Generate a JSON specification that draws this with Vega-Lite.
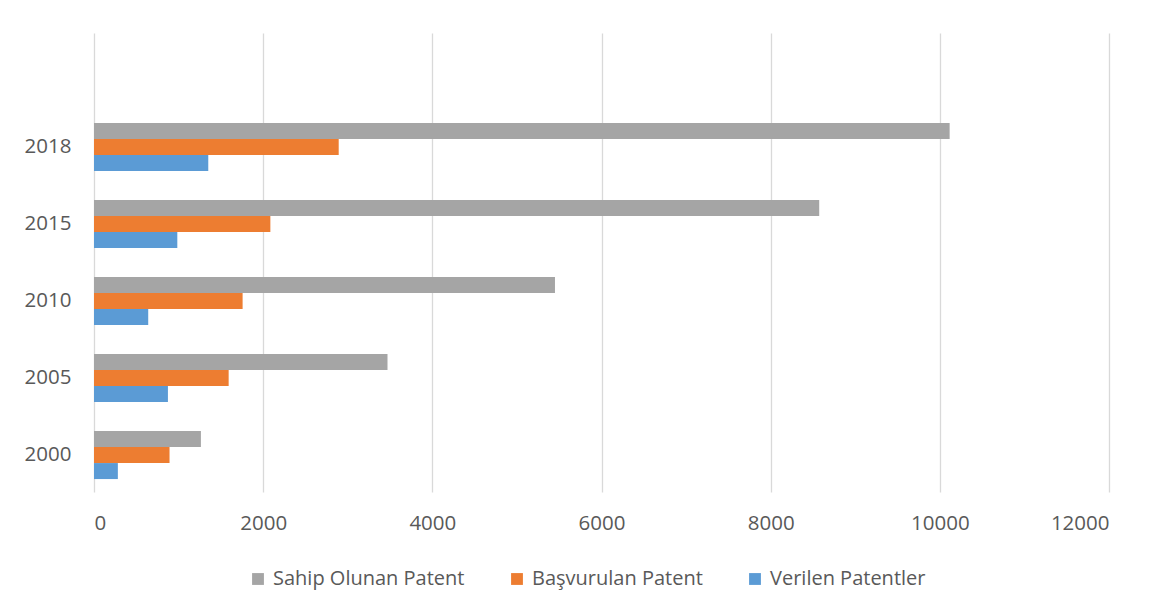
{
  "$schema": "https://vega.github.io/schema/vega-lite/v6.json",
  "width": 1015,
  "height": 459,
  "autosize": "none",
  "padding": {"left": 94, "top": 33, "right": 60, "bottom": 122},
  "background": "white",
  "config": {
    "view": {"stroke": null},
    "font": "Open Sans",
    "axis": {"labelFont": "Open Sans", "labelColor": "#595959", "labelFontSize": 20.5},
    "legend": {"labelFont": "Open Sans", "labelColor": "#595959", "labelFontSize": 20, "labelLimit": 400}
  },
  "data": {
    "values": [
      {"year": "2018", "series": "Sahip Olunan Patent", "value": 10116},
      {"year": "2018", "series": "Başvurulan Patent", "value": 2893},
      {"year": "2018", "series": "Verilen Patentler", "value": 1351},
      {"year": "2015", "series": "Sahip Olunan Patent", "value": 8574},
      {"year": "2015", "series": "Başvurulan Patent", "value": 2085},
      {"year": "2015", "series": "Verilen Patentler", "value": 985},
      {"year": "2010", "series": "Sahip Olunan Patent", "value": 5450},
      {"year": "2010", "series": "Başvurulan Patent", "value": 1757},
      {"year": "2010", "series": "Verilen Patentler", "value": 641},
      {"year": "2005", "series": "Sahip Olunan Patent", "value": 3470},
      {"year": "2005", "series": "Başvurulan Patent", "value": 1592},
      {"year": "2005", "series": "Verilen Patentler", "value": 874},
      {"year": "2000", "series": "Sahip Olunan Patent", "value": 1264},
      {"year": "2000", "series": "Başvurulan Patent", "value": 893},
      {"year": "2000", "series": "Verilen Patentler", "value": 282}
    ]
  },
  "mark": {"type": "bar"},
  "encoding": {
    "y": {
      "field": "year",
      "type": "nominal",
      "scale": {"domain": [" ", "2018", "2015", "2010", "2005", "2000"], "paddingInner": 0.377, "paddingOuter": 0.168},
      "axis": {"title": null, "domain": false, "ticks": false, "labelPadding": 23, "grid": false}
    },
    "yOffset": {
      "field": "series",
      "type": "nominal",
      "scale": {"domain": ["Sahip Olunan Patent", "Başvurulan Patent", "Verilen Patentler"]}
    },
    "x": {
      "field": "value",
      "type": "quantitative",
      "scale": {"domain": [0, 12000], "nice": false},
      "axis": {
        "title": null,
        "values": [0, 2000, 4000, 6000, 8000, 10000, 12000],
        "format": "d",
        "domain": false,
        "ticks": false,
        "grid": true,
        "gridColor": "#d9d9d9",
        "gridWidth": 1.3,
        "labelPadding": 21
      }
    },
    "color": {
      "field": "series",
      "type": "nominal",
      "scale": {
        "domain": ["Sahip Olunan Patent", "Başvurulan Patent", "Verilen Patentler"],
        "range": ["#A5A5A5", "#ED7D31", "#5B9BD5"]
      },
      "legend": {
        "title": null,
        "orient": "none",
        "legendX": 154,
        "legendY": 536,
        "direction": "horizontal",
        "symbolType": "square",
        "symbolSize": 140,
        "symbolStrokeWidth": 0,
        "labelOffset": 5,
        "columnPadding": 42
      }
    }
  }
}
